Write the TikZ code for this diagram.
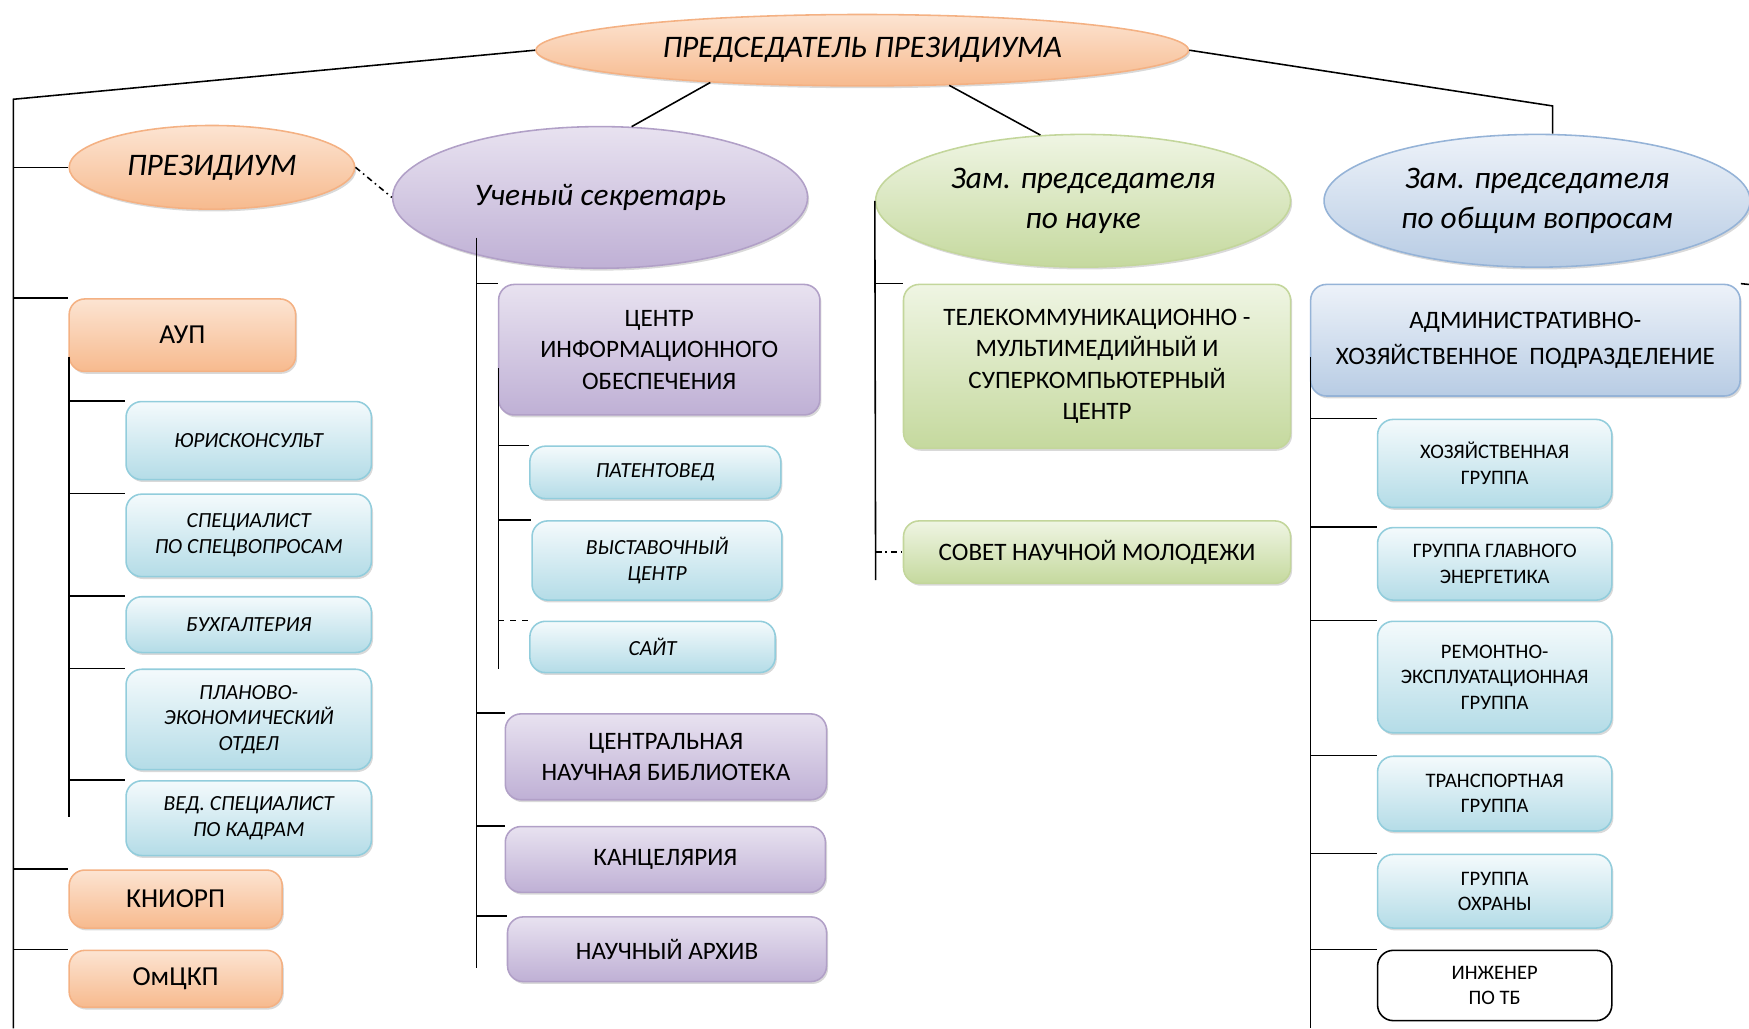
\documentclass[tikz,border=0pt]{standalone}
\usepackage{fontspec}
\setmainfont{Carlito}
\usetikzlibrary{shapes.geometric,shadows}

\definecolor{orangeedge}{HTML}{F4B183}
\definecolor{orangetop}{HTML}{FCE4D2}
\definecolor{orangebot}{HTML}{F7BA8E}
\definecolor{blueedge}{HTML}{92CDDC}
\definecolor{bluetop}{HTML}{F4FAFC}
\definecolor{bluebot}{HTML}{B4DCE7}
\definecolor{purpleedge}{HTML}{B1A0C7}
\definecolor{purpletop}{HTML}{E8E2F0}
\definecolor{purplebot}{HTML}{BFB0D5}
\definecolor{greenedge}{HTML}{C3D69B}
\definecolor{greentop}{HTML}{EFF5E3}
\definecolor{greenbot}{HTML}{C5D99E}
\definecolor{steeledge}{HTML}{95B3D7}
\definecolor{steeltop}{HTML}{EDF2F9}
\definecolor{steelbot}{HTML}{B8CCE4}

\tikzset{
  conn/.style={line width=0.8pt},
  sz/.style 2 args={minimum width={#1*0.02cm}, minimum height={#2*0.02cm}},
  shade/.style={drop shadow={shadow xshift=0.8pt, shadow yshift=-1.2pt, opacity=0.3}},
  oval/.style={ellipse, inner sep=0pt, line width=0.8pt, align=center, shade,
    font=\fontsize{16}{20.5}\selectfont\itshape},
  unit/.style={rectangle, rounded corners=8pt, inner sep=0pt, line width=0.8pt, align=center, shade},
  bigtxt/.style={font=\fontsize{12.8}{16}\selectfont},
  unittxt/.style={font=\fontsize{14}{16}\selectfont},
  smalltxt/.style={font=\fontsize{10.5}{13}\selectfont},
  smallit/.style={font=\fontsize{11}{13}\selectfont\itshape},
  orangefill/.style={draw=orangeedge, top color=orangetop, bottom color=orangebot},
  bluefill/.style={draw=blueedge, top color=bluetop, bottom color=bluebot},
  purplefill/.style={draw=purpleedge, top color=purpletop, bottom color=purplebot},
  greenfill/.style={draw=greenedge, top color=greentop, bottom color=greenbot},
  steelfill/.style={draw=steeledge, top color=steeltop, bottom color=steelbot},
}

\begin{document}
\begin{tikzpicture}[x=0.02cm, y=-0.02cm]
 \useasboundingbox (0,0) rectangle (1568,922);

 % heads
 \node[oval, orangefill, sz={585}{64}] (chair) at (773,45) {ПРЕДСЕДАТЕЛЬ ПРЕЗИДИУМА};
 \node[oval, orangefill, sz={256}{75}] (presidium) at (190,150) {ПРЕЗИДИУМ};
 \node[oval, purplefill, sz={372}{127}] (secr) at (538,177) {Ученый секретарь};
 \node[oval, greenfill, sz={372}{119}] (sci) at (971,180) {Зам. председателя\\по науке};
 \node[oval, steelfill, sz={382}{119}] (gen) at (1378,180) {Зам. председателя\\по общим вопросам};

 % left column
 \node[unit, orangefill, unittxt, sz={203}{65}] (aup) at (163.5,300.5) {АУП};
 \node[unit, bluefill, smallit, sz={220}{70}] (jur) at (223,395) {ЮРИСКОНСУЛЬТ};
 \node[unit, bluefill, smallit, sz={220}{74}] (spec) at (223,480) {СПЕЦИАЛИСТ\\ПО СПЕЦВОПРОСАМ};
 \node[unit, bluefill, smallit, sz={220}{50}] (buh) at (223,560) {БУХГАЛТЕРИЯ};
 \node[unit, bluefill, smallit, sz={220}{90}] (plan) at (223,645) {ПЛАНОВО-\\ЭКОНОМИЧЕСКИЙ\\ОТДЕЛ};
 \node[unit, bluefill, smallit, sz={220}{67}] (kadr) at (223,733.5) {ВЕД. СПЕЦИАЛИСТ\\ПО КАДРАМ};
 \node[unit, orangefill, unittxt, sz={191}{52}] (kniorp) at (157.5,806) {КНИОРП};
 \node[unit, orangefill, unittxt, sz={191}{51}] (omckp) at (157.5,877.5) {ОмЦКП};

 % secretary column
 \node[unit, purplefill, bigtxt, sz={288}{117}] (cio) at (591,313.5) {ЦЕНТР\\ИНФОРМАЦИОННОГО\\ОБЕСПЕЧЕНИЯ};
 \node[unit, bluefill, smallit, sz={225}{47}] (pat) at (587.5,423.5) {ПАТЕНТОВЕД};
 \node[unit, bluefill, smallit, sz={224}{71}] (vyst) at (589,502.5) {ВЫСТАВОЧНЫЙ\\ЦЕНТР};
 \node[unit, bluefill, smallit, sz={220}{46}] (site) at (585,580) {САЙТ};
 \node[unit, purplefill, bigtxt, sz={288}{77}] (lib) at (597,678.5) {ЦЕНТРАЛЬНАЯ\\НАУЧНАЯ БИБЛИОТЕКА};
 \node[unit, purplefill, bigtxt, sz={287}{59}] (kanc) at (596.5,770.5) {КАНЦЕЛЯРИЯ};
 \node[unit, purplefill, bigtxt, sz={286}{58}] (arch) at (598,851) {НАУЧНЫЙ АРХИВ};

 % science column
 \node[unit, greenfill, bigtxt, sz={347}{147}] (tele) at (983.5,328.5) {ТЕЛЕКОММУНИКАЦИОННО -\\МУЛЬТИМЕДИЙНЫЙ И\\СУПЕРКОМПЬЮТЕРНЫЙ\\ЦЕНТР};
 \node[unit, greenfill, bigtxt, sz={347}{56}] (sov) at (983.5,495) {СОВЕТ НАУЧНОЙ МОЛОДЕЖИ};

 % general column
 \node[unit, steelfill, font=\fontsize{12.8}{18.7}\selectfont, sz={385}{100}] (ahp) at (1367.5,305) {АДМИНИСТРАТИВНО-\\ХОЗЯЙСТВЕННОЕ~~ПОДРАЗДЕЛЕНИЕ};
 \node[unit, bluefill, smalltxt, sz={210}{79}] (hoz) at (1340,415.5) {ХОЗЯЙСТВЕННАЯ\\ГРУППА};
 \node[unit, bluefill, smalltxt, sz={210}{65}] (energ) at (1340,505.5) {ГРУППА ГЛАВНОГО\\ЭНЕРГЕТИКА};
 \node[unit, bluefill, smalltxt, sz={210}{100}] (rem) at (1340,607) {РЕМОНТНО-\\ЭКСПЛУАТАЦИОННАЯ\\ГРУППА};
 \node[unit, bluefill, smalltxt, sz={210}{67}] (trans) at (1340,711.5) {ТРАНСПОРТНАЯ\\ГРУППА};
 \node[unit, bluefill, smalltxt, sz={210}{66}] (ohr) at (1340,799) {ГРУППА\\ОХРАНЫ};
 \node[rectangle, rounded corners=8pt, draw=black, line width=0.8pt, fill=white, align=center, smalltxt, sz={210}{63}] (ing) at (1340,883.5) {ИНЖЕНЕР\\ПО ТБ};

 \coordinate (ltop) at (12,89);
 \coordinate (lbot) at (12,922);
 \coordinate (atop) at (62,320);
 \coordinate (abot) at (62,732);
 \coordinate (stop) at (427,213);
 \coordinate (sbot) at (427,868);
 \coordinate (ctop) at (447,330);
 \coordinate (cbot) at (447,600);
 \coordinate (nbot) at (785,520);
 \coordinate (gbend) at (1392,95);
 \coordinate (gtop) at (1175,320);
 \coordinate (gbot) at (1175,922);
 \coordinate (redge) at (1568,255);

 % links from the chairman
 \draw[conn] (chair.west) -- (ltop) -- (lbot);
 \draw[conn] (chair.192) -- (secr.66);
 \draw[conn] (chair.338) -- (sci.123);
 \draw[conn] (chair.east) -- (gbend) -- (gen.north -| gbend);
 \draw[conn, dash dot] (presidium.east) -- (secr.west);

 % left column links
 \foreach \b in {presidium.west, aup.north west, kniorp.north west, omckp.north west}
   \draw[conn] (\b -| ltop) -- (\b);
 \draw[conn] (atop) -- (abot);
 \foreach \b in {jur, spec, buh, plan, kadr}
   \draw[conn] (\b.north west -| abot) -- (\b.north west);

 % secretary links
 \draw[conn] (stop) -- (sbot);
 \foreach \b in {cio, lib, kanc, arch}
   \draw[conn] (\b.north west -| stop) -- (\b.north west);
 \draw[conn] (ctop) -- (cbot);
 \foreach \b in {pat, vyst}
   \draw[conn] (\b.north west -| ctop) -- (\b.north west);
 \draw[conn, dashed] (site.north west -| ctop) -- (site.north west);

 % science links
 \draw[conn] (sci.west) -- (nbot);
 \draw[conn] (tele.north west -| nbot) -- (tele.north west);
 \draw[conn, dash dot] (sov.west -| nbot) -- (sov.west);

 % general links
 \draw[conn] (gtop) -- (gbot);
 \foreach \b in {hoz, energ, rem, trans, ohr, ing}
   \draw[conn] (\b.north west -| gtop) -- (\b.north west);
 \draw[conn] (ahp.north east) -- (redge);
\end{tikzpicture}
\end{document}
